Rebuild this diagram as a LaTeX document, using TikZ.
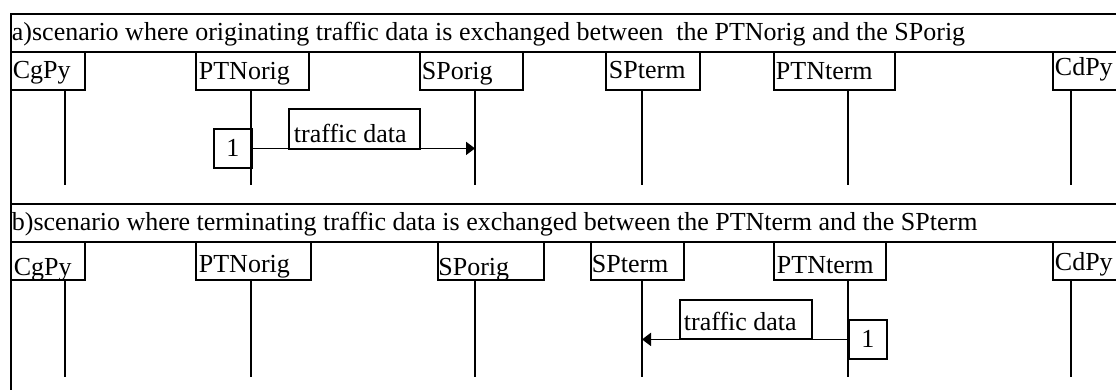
\documentclass[tikz,border=0pt]{standalone}
\usepackage{fontspec}
\setmainfont{Liberation Serif}
\usetikzlibrary{arrows.meta}
\begin{document}
\begin{tikzpicture}[x=1pt,y=-1pt,line width=1.8pt,
  txt/.style={inner sep=0pt,anchor=base west,font=\fontsize{26}{30}\selectfont},
  rbox/.style={draw,inner sep=0pt,anchor=north west,font=\fontsize{26}{30}\selectfont},
  life/.style={line width=1.9pt},
  msg/.style={line width=1.8pt,-{Triangle[length=9pt,width=13pt]}}]
\useasboundingbox (0,0) rectangle (1116,389);
\clip (0,0) rectangle (1116,389);
% section frames
\node[rbox,minimum width=1300pt,minimum height=190pt] (secA) at (10,13) {};
\node[rbox,minimum width=1300pt,minimum height=300pt] (secB) at (10,203) {};
\node[rbox,minimum width=1300pt,minimum height=38pt] (hdrA) at (10,13) {};
\node[rbox,minimum width=1300pt,minimum height=38pt] (hdrB) at (10,203) {};
\node[txt] (hdrAt) at (11,40) {a)scenario where originating traffic data is exchanged between~~the PTNorig and the SPorig};
\node[txt] (hdrBt) at (11,230) {b)scenario where terminating traffic data is exchanged between the PTNterm and the SPterm};
% head boxes a
\node[rbox,minimum width=74pt,minimum height=38pt] (cgA) at (10,51) {};
\node[rbox,minimum width=113pt,minimum height=38pt] (ptnoA) at (195,51) {};
\node[rbox,minimum width=103pt,minimum height=38pt] (spoA) at (419,51) {};
\node[rbox,minimum width=94pt,minimum height=38pt] (sptA) at (605,51) {};
\node[rbox,minimum width=121pt,minimum height=38pt] (ptntA) at (773,51) {};
\node[rbox,minimum width=150pt,minimum height=38pt] (cdA) at (1052,51) {};
\node[txt] (cgAt) at (12,78) {CgPy};
\node[txt] (ptnoAt) at (198,79) {PTNorig};
\node[txt] (spoAt) at (421,79) {SPorig};
\node[txt] (sptAt) at (608,78) {SPterm};
\node[txt] (ptntAt) at (775,79) {PTNterm};
\node[txt] (cdAt) at (1054,75) {CdPy};
% head boxes b
\node[rbox,minimum width=74pt,minimum height=38pt] (cgB) at (10,241) {};
\node[rbox,minimum width=115pt,minimum height=38pt] (ptnoB) at (195,241) {};
\node[rbox,minimum width=106pt,minimum height=38pt] (spoB) at (437,241) {};
\node[rbox,minimum width=93pt,minimum height=38pt] (sptB) at (590,241) {};
\node[rbox,minimum width=112pt,minimum height=38pt] (ptntB) at (773,241) {};
\node[rbox,minimum width=150pt,minimum height=38pt] (cdB) at (1052,241) {};
\node[txt] (cgBt) at (13,275) {CgPy};
\node[txt] (ptnoBt) at (198,272) {PTNorig};
\node[txt] (spoBt) at (437.5,275) {SPorig};
\node[txt] (sptBt) at (591,272) {SPterm};
\node[txt] (ptntBt) at (776,273) {PTNterm};
\node[txt] (cdBt) at (1054,270) {CdPy};
% lifeline ends
\coordinate (lcgA) at (65,185);
\coordinate (lptnoA) at (251,185);
\coordinate (lspoA) at (475,185);
\coordinate (lsptA) at (642,185);
\coordinate (lptntA) at (848,185);
\coordinate (lcdA) at (1071,185);
\coordinate (lcgB) at (65,377);
\coordinate (lptnoB) at (251,377);
\coordinate (lspoB) at (475,377);
\coordinate (lsptB) at (642,377);
\coordinate (lptntB) at (848,377);
\coordinate (lcdB) at (1071,377);
\foreach \n in {cg,ptno,spo,spt,ptnt,cd}{
  \draw[life] (\n A.south -| l\n A) -- (l\n A);
  \draw[life] (\n B.south -| l\n B) -- (l\n B);
}
% messages
\node[rbox,minimum width=38pt,minimum height=39pt] (oneA) at (213,128) {1};
\node[rbox,minimum width=131pt,minimum height=40pt] (tdA) at (288,108) {};
\node[txt] (tdAt) at (293,142) {traffic data};
\draw[msg] (oneA.east) -- (oneA.east -| lspoA);
\node[rbox,minimum width=38pt,minimum height=39pt] (oneB) at (848,319) {1};
\node[rbox,minimum width=132pt,minimum height=39pt] (tdB) at (679,299) {};
\node[txt] (tdBt) at (683,330) {traffic data};
\draw[msg] (oneB.west) -- (oneB.west -| lsptB);
\end{tikzpicture}
\end{document}
